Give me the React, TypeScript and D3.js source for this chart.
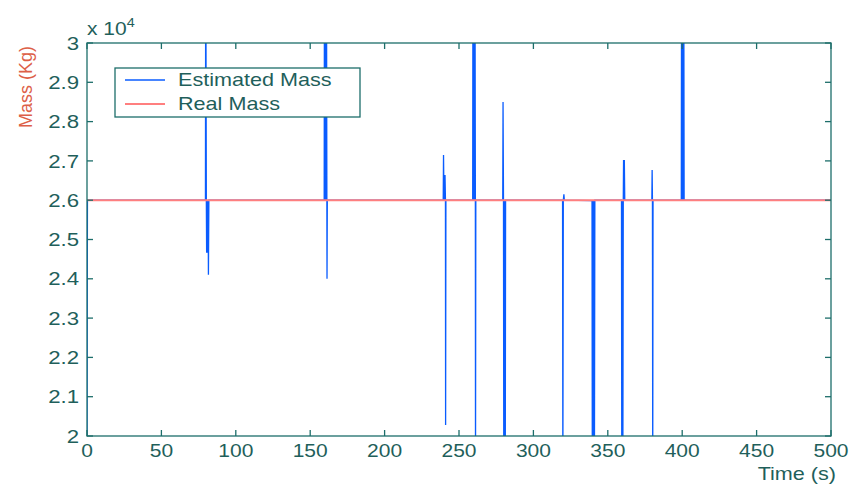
import React, { useRef, useEffect } from 'react';
import * as d3 from 'd3';

// estimated mass samples (time in s, mass in 1e4 kg); bursts at each change
const estimatedTime = [
  0, 0.3,
  79.6, 79.8, 80.2, 80.4, 80.8, 81.0, 81.4, 81.6, 81.9,
  159.4, 159.6, 160.0, 160.3, 160.7, 160.9, 161.2, 161.3, 161.5,
  239.4, 239.6, 239.9, 240.1, 240.4, 240.6, 240.9, 241.0, 241.2,
  259.2, 259.4, 259.8, 260.1, 260.5, 260.7, 261.0, 261.1, 261.3,
  279.4, 279.6, 279.9, 280.1, 280.4, 280.6, 280.9, 281.1, 281.3,
  319.6, 319.8, 320.1, 320.5, 320.8,
  339.4, 339.6, 340.0, 340.3, 340.7, 341.0, 341.3,
  359.2, 359.4, 359.8, 360.1, 360.4, 360.6, 360.9, 361.1, 361.4,
  379.6, 379.8, 380.0, 380.2, 380.4,
  399.4, 399.6, 400.0, 400.3, 400.7, 401.0, 401.3,
  500,
];
const estimatedMass = [
  2.0, 2.6,
  2.6, 3.3, 2.6, 2.466, 2.6, 2.466, 2.6, 2.41, 2.6,
  2.6, 3.3, 2.6, 3.3, 2.6, 3.3, 2.6, 2.40, 2.6,
  2.6, 2.715, 2.6, 2.664, 2.6, 2.664, 2.6, 2.028, 2.6,
  2.6, 3.3, 2.6, 3.3, 2.6, 3.3, 2.6, 1.9, 2.6,
  2.6, 2.85, 2.6, 1.9, 2.6, 1.9, 2.6, 1.9, 2.6,
  2.6, 1.9, 2.6, 2.615, 2.6,
  2.599, 1.9, 2.599, 1.9, 2.599, 1.9, 2.6,
  2.6, 1.9, 2.6, 1.9, 2.6, 2.702, 2.6, 2.702, 2.6,
  2.6, 2.677, 2.6, 1.9, 2.6,
  2.6, 3.3, 2.6, 3.3, 2.6, 3.3, 2.6,
  2.6,
];
const realTime = [0, 500];
const realMass = [2.6, 2.6];

const xTicks = [0, 50, 100, 150, 200, 250, 300, 350, 400, 450, 500];
const yTicks = [2, 2.1, 2.2, 2.3, 2.4, 2.5, 2.6, 2.7, 2.8, 2.9, 3];
const legendItems = ['Estimated Mass', 'Real Mass'];

const W = 854;
const H = 492;
const margin = { top: 43, right: 23, bottom: 56, left: 87 };
const axisColor = '#1d6e6a';
const textColor = '#1f5f5b';
const blue = '#0a5cff';
const red = '#ff7f7f';
const font = 'Liberation Sans, Arial, sans-serif';
const stretch = 1.2; // the picture's text is wide

const App = () => {
  const svgRef = useRef<SVGSVGElement>(null);

  useEffect(() => {
    const svg = d3.select(svgRef.current);
    svg.selectAll('*').remove();

    const iw = W - margin.left - margin.right;
    const ih = H - margin.top - margin.bottom;

    const x = d3.scaleLinear().domain([0, 500]).range([0, iw]);
    const y = d3.scaleLinear().domain([2, 3]).range([ih, 0]);

    // wide text: positioned by translate, then stretched horizontally
    const addText = (parent: any, tx: number, ty: number, str: string, anchor: string, size = 18, dy = '0') =>
      parent.append('text')
        .attr('transform', `translate(${tx},${ty}) scale(${stretch},1)`)
        .attr('text-anchor', anchor)
        .attr('dy', dy)
        .attr('font-family', font).attr('font-size', size)
        .attr('fill', textColor)
        .text(str);

    svg.append('defs').append('clipPath').attr('id', 'plotClip')
      .append('rect').attr('width', iw).attr('height', ih);

    const g = svg.append('g').attr('transform', `translate(${margin.left},${margin.top})`);

    const line = d3.line<[number, number]>().x(d => x(d[0])).y(d => y(d[1]));

    const plot = g.append('g').attr('clip-path', 'url(#plotClip)');
    plot.append('path')
      .datum(estimatedTime.map((t, i) => [t, estimatedMass[i]] as [number, number]))
      .attr('fill', 'none')
      .attr('stroke', blue)
      .attr('stroke-width', 1.3)
      .attr('d', line);
    plot.append('path')
      .datum(realTime.map((t, i) => [t, realMass[i]] as [number, number]))
      .attr('fill', 'none')
      .attr('stroke', red)
      .attr('stroke-width', 2)
      .attr('d', line);

    // box
    g.append('rect')
      .attr('width', iw).attr('height', ih)
      .attr('fill', 'none').attr('stroke', axisColor).attr('stroke-width', 1.3);

    const tl = 6;
    const ticks = g.append('g').attr('stroke', axisColor).attr('stroke-width', 1.3);
    xTicks.forEach(t => {
      ticks.append('line').attr('x1', x(t)).attr('x2', x(t)).attr('y1', ih).attr('y2', ih - tl);
      ticks.append('line').attr('x1', x(t)).attr('x2', x(t)).attr('y1', 0).attr('y2', tl);
    });
    yTicks.forEach(t => {
      ticks.append('line').attr('x1', 0).attr('x2', tl).attr('y1', y(t)).attr('y2', y(t));
      ticks.append('line').attr('x1', iw).attr('x2', iw - tl).attr('y1', y(t)).attr('y2', y(t));
    });

    xTicks.forEach(t => addText(g, x(t), ih + 21, String(t), 'middle', 17.5));
    yTicks.forEach(t => addText(g, -8, y(t), d3.format('~g')(t), 'end', 18.5, '0.36em'));

    // exponent
    const ex = g.append('text')
      .attr('transform', `translate(0,-8) scale(${stretch},1)`)
      .attr('font-family', font).attr('font-size', 17.5).attr('fill', textColor);
    ex.append('tspan').text('x 10');
    ex.append('tspan').attr('dy', -8).attr('font-size', 12).text('4');

    svg.append('text')
      .attr('transform', `translate(32,${87}) rotate(-90)`)
      .attr('text-anchor', 'middle')
      .attr('font-family', font).attr('font-size', 18)
      .attr('fill', '#dd5f48')
      .text('Mass (Kg)');

    addText(svg, 836, 480, 'Time (s)', 'end', 18);

    // legend
    const lg = svg.append('g').attr('transform', 'translate(115,68)');
    lg.append('rect').attr('width', 245).attr('height', 49)
      .attr('fill', 'white').attr('stroke', axisColor).attr('stroke-width', 1.3);
    const colors = [blue, red];
    legendItems.forEach((name, i) => {
      const yy = 12 + i * 24;
      lg.append('line').attr('x1', 10).attr('x2', 50).attr('y1', yy).attr('y2', yy)
        .attr('stroke', colors[i]).attr('stroke-width', i === 0 ? 1.3 : 2);
      addText(lg, 63, yy, name, 'start', 18, '0.36em');
    });
  }, []);

  return (
    <svg ref={svgRef} width={W} height={H}
      style={{ position: 'absolute', left: 0, top: 0, background: 'white' }} />
  );
};

export default App;
